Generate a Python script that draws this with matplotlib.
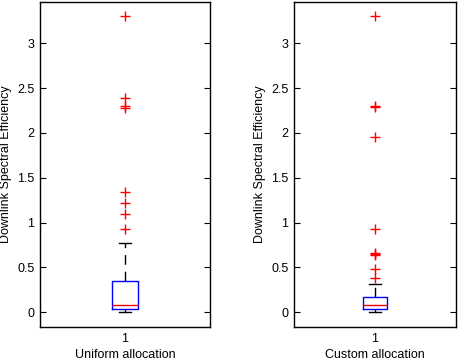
import matplotlib
matplotlib.use("Agg")
import matplotlib.pyplot as plt

# box statistics
titles = ["Uniform allocation", "Custom allocation"]
q1 = [0.033, 0.033]
med = [0.081, 0.081]
q3 = [0.345, 0.17]
wlo = [0.0, 0.0]
whi = [0.77, 0.31]
outliers = [
    [3.30, 2.39, 2.30, 2.28, 1.34, 1.22, 1.09, 0.925],
    [3.30, 2.30, 2.29, 1.955, 0.93, 0.66, 0.65, 0.64, 0.48, 0.378],
]
yticks = [0, 0.5, 1, 1.5, 2, 2.5, 3]
ytick_labels = ["0", "0.5", "1", "1.5", "2", "2.5", "3"]

plt.rcParams["font.family"] = ["Liberation Sans", "DejaVu Sans"]
plt.rcParams["font.size"] = 9

fig = plt.figure(figsize=(4.58, 3.62), dpi=100)
W, H = 458, 362
axes_px = [(40, 210), (294, 456)]
top, bottom = 2, 327

for i, (x0, x1) in enumerate(axes_px):
    ax = fig.add_axes([x0 / W, 1 - bottom / H, (x1 - x0) / W, (bottom - top) / H])
    stats = [{
        "q1": q1[i], "med": med[i], "q3": q3[i],
        "whislo": wlo[i], "whishi": whi[i],
        "fliers": outliers[i], "label": "1",
    }]
    ax.bxp(stats, positions=[1], widths=0.15, showfliers=True,
           boxprops=dict(color="blue", linewidth=1),
           medianprops=dict(color="red", linewidth=1),
           whiskerprops=dict(color="black", linewidth=1, linestyle=(0, (7, 5))),
           capprops=dict(color="black", linewidth=1),
           flierprops=dict(marker="+", markeredgecolor="red", markersize=7,
                           markeredgewidth=1, linestyle="none"),
           capwidths=0.075)
    ax.set_xlim(0.5, 1.5)
    ax.set_ylim(-0.165, 3.46)
    ax.set_yticks(yticks)
    ax.set_yticklabels(ytick_labels)
    ax.tick_params(axis="y", direction="in", left=True, right=True, length=4, pad=4)
    ax.tick_params(axis="x", length=0, pad=4)
    ax.set_ylabel("Downlink Spectral Efficiency", labelpad=4)
    ax.set_xlabel(titles[i], labelpad=3)
    for s in ax.spines.values():
        s.set_linewidth(1)

fig.savefig("out.png", dpi=100)
